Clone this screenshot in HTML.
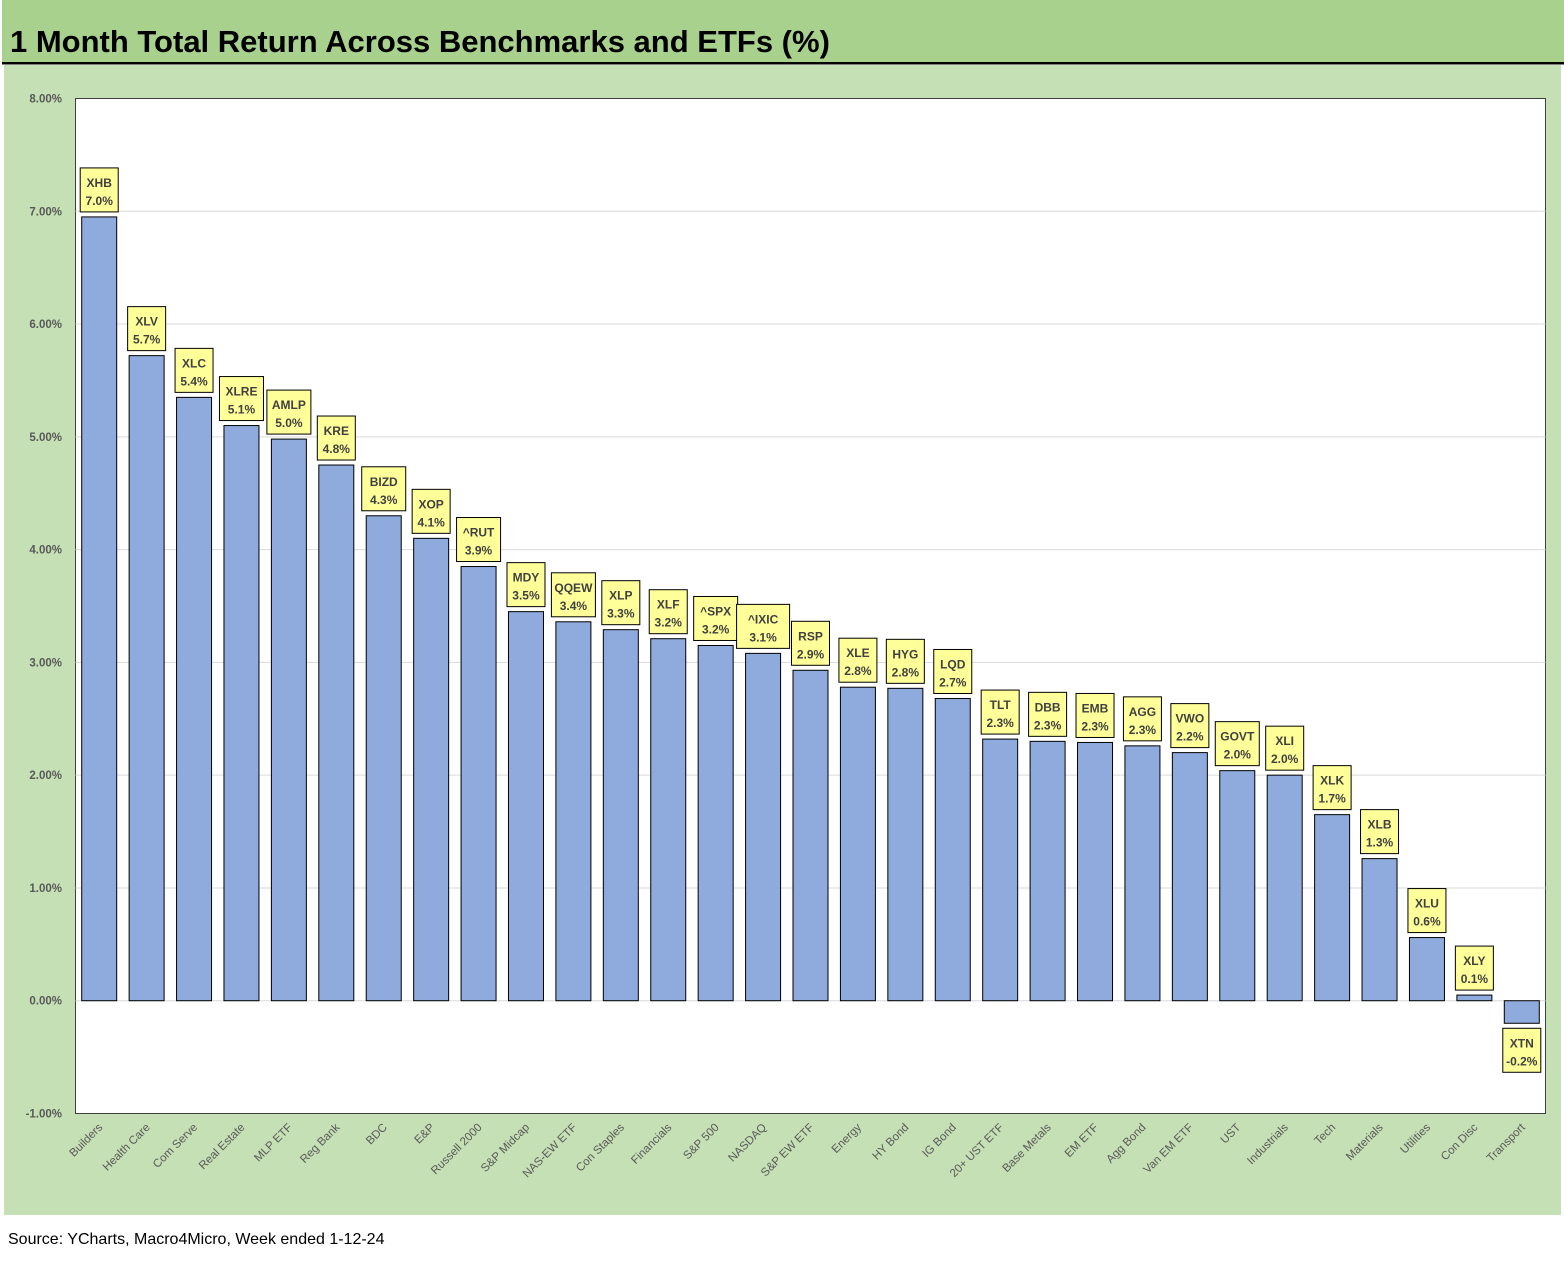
<!DOCTYPE html>
<html><head><meta charset="utf-8"><style>
body{margin:0;width:1564px;height:1256px;background:#fff;font-family:"Liberation Sans",Arial,sans-serif;overflow:hidden}
</style></head><body>
<svg id="chart" width="1564" height="1256" xmlns="http://www.w3.org/2000/svg">
<rect x="0" y="0" width="1564" height="1256" fill="#fff"/>
<rect x="2" y="0" width="1562" height="63" fill="#a9d18e"/>
<text x="10" y="52" font-size="31" font-weight="bold" fill="#000">1 Month Total Return Across Benchmarks and ETFs (%)</text>
<rect x="2" y="62" width="1562" height="2.5" fill="#000"/>
<rect x="4" y="65" width="1557" height="1150" fill="#c5e0b4"/>
<rect x="75.5" y="98.5" width="1470" height="1015" fill="#fff" stroke="#404040" stroke-width="1"/>
<g id="grid"></g><g id="bars"></g><g id="labels"></g><g id="ticks"></g><g id="cats"></g>
<text x="8" y="1244" font-size="16" fill="#000">Source: YCharts, Macro4Micro, Week ended 1-12-24</text>
</svg>
<script>
const categories=["Builders","Health Care","Com Serve","Real Estate","MLP ETF","Reg Bank","BDC","E&P","Russell 2000","S&P Midcap","NAS-EW ETF","Con Staples","Financials","S&P 500","NASDAQ","S&P EW ETF","Energy","HY Bond","IG Bond","20+ UST ETF","Base Metals","EM ETF","Agg Bond","Van EM ETF","UST","Industrials","Tech","Materials","Utilities","Con Disc","Transport"];
const tickers=["XHB","XLV","XLC","XLRE","AMLP","KRE","BIZD","XOP","^RUT","MDY","QQEW","XLP","XLF","^SPX","^IXIC","RSP","XLE","HYG","LQD","TLT","DBB","EMB","AGG","VWO","GOVT","XLI","XLK","XLB","XLU","XLY","XTN"];
const values=[6.95,5.72,5.35,5.1,4.98,4.75,4.3,4.1,3.85,3.45,3.36,3.29,3.21,3.15,3.08,2.93,2.78,2.77,2.68,2.32,2.3,2.29,2.26,2.2,2.04,2.0,1.65,1.26,0.56,0.05,-0.2];
const valueLabels=["7.0%","5.7%","5.4%","5.1%","5.0%","4.8%","4.3%","4.1%","3.9%","3.5%","3.4%","3.3%","3.2%","3.2%","3.1%","2.9%","2.8%","2.8%","2.7%","2.3%","2.3%","2.3%","2.3%","2.2%","2.0%","2.0%","1.7%","1.3%","0.6%","0.1%","-0.2%"];
const yTicks=[8,7,6,5,4,3,2,1,0,-1];
const NS="http://www.w3.org/2000/svg";
const L=75.5,W=1470,T=98.5,H=1015,yMin=-1,yMax=8;
const y=v=>T+(yMax-v)/(yMax-yMin)*H;
const bw=W/categories.length;
const xc=i=>L+bw*(i+0.5);
function mk(tag,attrs,parent,txt){const e=document.createElementNS(NS,tag);for(const k in attrs)e.setAttribute(k,attrs[k]);if(txt!==undefined)e.textContent=txt;document.getElementById(parent).appendChild(e);return e;}
yTicks.forEach(t=>{
  if(t!==8&&t!==-1){const g=mk('line',{x1:L,x2:L+W,y1:y(t),y2:y(t),stroke:'#d9d9d9','stroke-width':1},'grid');
  
  }
  const tx=mk('text',{x:62,y:y(t)+4,'text-anchor':'end','font-size':11.5,'font-weight':'bold',fill:'#595959'},'ticks',t.toFixed(2)+'%');
  
  
});
values.forEach((v,i)=>{
  const cx=xc(i),bwid=35;
  const top=Math.min(y(v),y(0)),h=Math.abs(y(v)-y(0));
  const r=mk('rect',{x:cx-bwid/2,y:top,width:bwid,height:h,fill:'#8faadc',stroke:'#000','stroke-width':1},'bars');
  
  
  const bwL=Math.max(38,tickers[i].length*9+8),bh=44;
  const by=v>=0?y(v)-5-bh:y(v)+5;
  const b=mk('rect',{x:cx-bwL/2,y:by,width:bwL,height:bh,fill:'#ffff99',stroke:'#000','stroke-width':1},'labels');
  
  
  const t1=mk('text',{x:cx,y:by+19,'text-anchor':'middle','font-size':12,'font-weight':'bold',fill:'#404040'},'labels',tickers[i]);
  
  
  const t2=mk('text',{x:cx,y:by+37,'text-anchor':'middle','font-size':12,'font-weight':'bold',fill:'#404040'},'labels',valueLabels[i]);
  
  
  const c=mk('text',{x:cx+4,y:1128,'text-anchor':'end','font-size':11.5,fill:'#595959',transform:`rotate(-45 ${cx+4} 1128)`},'cats',categories[i]);
  
  
});
</script>
</body></html>
